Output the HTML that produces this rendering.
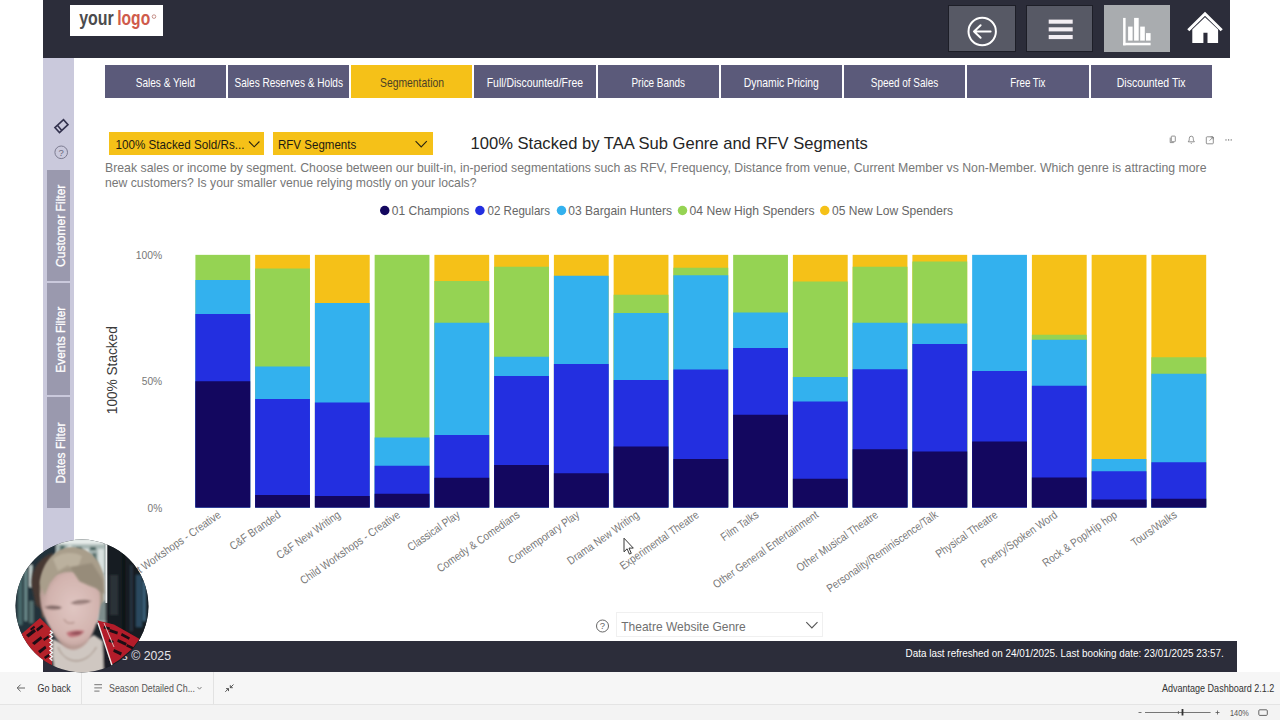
<!DOCTYPE html>
<html lang="en">
<head>
<meta charset="utf-8">
<title>Advantage Dashboard - Segmentation</title>
<style>
html,body{margin:0;padding:0;background:#fff;}
body{width:1280px;height:720px;overflow:hidden;position:relative;font-family:"Liberation Sans",sans-serif;}
#stage{position:absolute;left:0;top:0;width:1280px;height:720px;overflow:hidden;background:#fff;}
.abs{position:absolute;}
#header{left:43px;top:0;width:1187px;height:58.4px;background:#2c2d3a;}
#sidebar{left:43px;top:58.4px;width:31px;height:582.6px;background:#cac9dc;}
.fbtn{left:47px;width:23px;background:#9a99ae;}
#logo{left:70px;top:4.6px;width:93.2px;height:31px;background:#fff;}
.hbtn{top:4.5px;height:47.5px;box-sizing:border-box;border:1px solid #1d1e27;background:#575965;}
.tab{top:65.2px;height:32.4px;width:121.4px;background:#5b5a7a;}
.tab.on{background:#f5c118;}
.dd{background:#f5c118;top:132px;height:22.5px;}
#footer{left:43px;top:641px;width:1194px;height:31px;background:#2c2d3a;}
#botbar{left:0;top:672px;width:1280px;height:32.5px;background:#f6f6f6;border-bottom:1px solid #e4e4e4;box-sizing:border-box;}
#zoombar{left:0;top:704.5px;width:1280px;height:15.5px;background:#f3f3f3;}
.vsep{top:672px;width:1px;height:32px;background:#e2e2e2;}
#genre{left:615.5px;top:612px;width:207px;height:24.5px;box-sizing:border-box;border:1px solid #f0f0f0;background:#fff;}
svg{position:absolute;left:0;top:0;overflow:visible;}
svg text{font-family:"Liberation Sans",sans-serif;}
</style>
</head>
<body>
<div id="stage">

<div id="header" class="abs"></div>
<div id="sidebar" class="abs"></div>
<div class="abs fbtn" style="top:169.5px;height:111.3px"></div>
<div class="abs fbtn" style="top:283.3px;height:111.7px"></div>
<div class="abs fbtn" style="top:397px;height:111.3px"></div>
<div id="logo" class="abs"></div>
<div class="abs hbtn" style="left:948px;width:67.5px"></div>
<div class="abs hbtn" style="left:1025.7px;width:67.7px"></div>
<div class="abs hbtn" style="left:1103.7px;width:66.5px;background:#a9acaf;border-color:#a9acaf"></div>
<div class="abs tab" style="left:104.5px"></div>
<div class="abs tab" style="left:228px"></div>
<div class="abs tab on" style="left:351px"></div>
<div class="abs tab" style="left:474.25px"></div>
<div class="abs tab" style="left:597.5px"></div>
<div class="abs tab" style="left:720.75px"></div>
<div class="abs tab" style="left:844px"></div>
<div class="abs tab" style="left:967.25px"></div>
<div class="abs tab" style="left:1090.5px"></div>
<div class="abs dd" style="left:109.25px;width:155px"></div>
<div class="abs dd" style="left:272.5px;width:160.4px"></div>
<div id="genre" class="abs"></div>
<div id="footer" class="abs"></div>
<div id="botbar" class="abs"></div>
<div id="zoombar" class="abs"></div>
<div class="abs vsep" style="left:81px"></div>
<div class="abs vsep" style="left:212.5px"></div>
<svg width="1280" height="720" viewBox="0 0 1280 720">
<g font-weight="bold">
<text x="79.2" y="25.2" font-size="19.6" fill="#4b4b4d" textLength="34.6" lengthAdjust="spacingAndGlyphs">your</text>
<text x="117.2" y="25.2" font-size="19.6" fill="#cf5b4c" textLength="33" lengthAdjust="spacingAndGlyphs">logo</text>
</g>
<circle cx="154" cy="16.6" r="1.8" fill="none" stroke="#b9786e" stroke-width="0.8"/>
<g fill="none" stroke="#fff" stroke-width="2" stroke-linecap="round" stroke-linejoin="round">
<circle cx="982.2" cy="31.5" r="13.7"/>
<path d="M990.6 31.5H974 M980.6 25.2L974 31.5L980.6 37.8"/>
</g>
<g fill="#f3eef3"><rect x="1048.7" y="19.6" width="24" height="4.1"/><rect x="1048.7" y="27.3" width="24" height="4.1"/><rect x="1048.7" y="35" width="24" height="4.1"/></g>
<g fill="#fff"><rect x="1123.1" y="17.9" width="2.5" height="27.4"/><rect x="1123.1" y="42.8" width="27.5" height="2.5"/><rect x="1128.1" y="26.6" width="4.5" height="14"/><rect x="1134.1" y="17.9" width="4.6" height="22.7"/><rect x="1140.2" y="26.6" width="4.6" height="14"/><rect x="1146" y="33.1" width="4.6" height="7.5"/></g>
<path d="M1188.3 30.2L1205 13.8L1221.7 30.2" fill="none" stroke="#fff" stroke-width="3"/>
<path d="M1192.3 29.5L1205 17.2L1218.1 29.5V43.1H1207.5V32.8H1203.4V43.1H1192.3Z" fill="#fff"/>
<text x="135.75" y="86.8" font-size="12.2" fill="#fff" textLength="59.25" lengthAdjust="spacingAndGlyphs">Sales &amp; Yield</text>
<text x="234.5" y="86.8" font-size="12.2" fill="#fff" textLength="108.5" lengthAdjust="spacingAndGlyphs">Sales Reserves &amp; Holds</text>
<text x="380" y="86.8" font-size="12.2" fill="#4a4026" textLength="64" lengthAdjust="spacingAndGlyphs">Segmentation</text>
<text x="486.75" y="86.8" font-size="12.2" fill="#fff" textLength="96.25" lengthAdjust="spacingAndGlyphs">Full/Discounted/Free</text>
<text x="631.5" y="86.8" font-size="12.2" fill="#fff" textLength="53.5" lengthAdjust="spacingAndGlyphs">Price Bands</text>
<text x="743.75" y="86.8" font-size="12.2" fill="#fff" textLength="75.0" lengthAdjust="spacingAndGlyphs">Dynamic Pricing</text>
<text x="870.75" y="86.8" font-size="12.2" fill="#fff" textLength="67.5" lengthAdjust="spacingAndGlyphs">Speed of Sales</text>
<text x="1010.25" y="86.8" font-size="12.2" fill="#fff" textLength="35.25" lengthAdjust="spacingAndGlyphs">Free Tix</text>
<text x="1116.75" y="86.8" font-size="12.2" fill="#fff" textLength="68.75" lengthAdjust="spacingAndGlyphs">Discounted Tix</text>
<g fill="none" stroke="#33324e" stroke-width="1.6" stroke-linejoin="miter">
<path d="M54.9 127.6L63.5 119.6L68 124.7L59.5 132.6Z M57.4 125.3L61.8 130.4"/>
</g>
<circle cx="61.2" cy="152.3" r="6.3" fill="none" stroke="#7c7b90" stroke-width="1"/>
<text x="61.2" y="155.7" font-size="9.5" fill="#6a697e" text-anchor="middle">?</text>
<text transform="translate(64.8,225.8) rotate(-90)" font-size="13.5" fill="#fff" stroke="#fff" stroke-width="0.3" text-anchor="middle" textLength="82.3" lengthAdjust="spacingAndGlyphs">Customer Filter</text>
<text transform="translate(64.8,339.7) rotate(-90)" font-size="13.5" fill="#fff" stroke="#fff" stroke-width="0.3" text-anchor="middle" textLength="66" lengthAdjust="spacingAndGlyphs">Events Filter</text>
<text transform="translate(64.8,453.1) rotate(-90)" font-size="13.5" fill="#fff" stroke="#fff" stroke-width="0.3" text-anchor="middle" textLength="61" lengthAdjust="spacingAndGlyphs">Dates Filter</text>
<text x="115.5" y="149.3" font-size="12.7" fill="#1c1a12" textLength="129" lengthAdjust="spacingAndGlyphs">100% Stacked Sold/Rs...</text>
<text x="278" y="149.3" font-size="12.7" fill="#1c1a12" textLength="78.2" lengthAdjust="spacingAndGlyphs">RFV Segments</text>
<path d="M249 141.5L254.2 146.8L259.4 141.5" fill="none" stroke="#2a2410" stroke-width="1.1"/>
<path d="M415.6 141.2L421.2 146.9L426.8 141.2" fill="none" stroke="#2a2410" stroke-width="1.1"/>
<text x="470.5" y="149.0" font-size="17" fill="#252525" textLength="397.3" lengthAdjust="spacingAndGlyphs">100% Stacked by TAA Sub Genre and RFV Segments</text>
<g transform="translate(0,0.6)"><g fill="none" stroke="#777" stroke-width="0.8">
<rect x="1171.3" y="135.5" width="4" height="5.6" rx="0.6"/><path d="M1170.2 137v5h3.6"/>
<path d="M1188.2 141.2c1.2-1 1.1-3 1.1-3.6a2 2 0 014 0c0 .6-.1 2.600 1.1 3.600zM1190.600 142.300a.8.800 0 001.400 0"/>
<rect x="1206.3" y="136.2" width="7" height="7" rx="0.8"/><path d="M1209.600 140l3.400-3.400M1210.700 136.400h2.400v2.400"/>
</g>
<g fill="#666"><circle cx="1226" cy="139.3" r="0.7"/><circle cx="1228.600" cy="139.3" r="0.7"/><circle cx="1231.2" cy="139.3" r="0.7"/></g></g>
<text x="105" y="171.6" font-size="12.9" fill="#777" textLength="1101.5" lengthAdjust="spacingAndGlyphs">Break sales or income by segment. Choose between our built-in, in-period segmentations such as RFV, Frequency, Distance from venue, Current Member vs Non-Member. Which genre is attracting more</text>
<text x="105" y="186.9" font-size="12.9" fill="#777" textLength="371.5" lengthAdjust="spacingAndGlyphs">new customers? Is your smaller venue relying mostly on your locals?</text>
<circle cx="384.75" cy="210.5" r="4.75" fill="#13075f"/>
<text x="391.75" y="215" font-size="12.6" fill="#666" textLength="77.5" lengthAdjust="spacingAndGlyphs">01 Champions</text>
<circle cx="479.9" cy="210.5" r="4.75" fill="#232fe0"/>
<text x="487.5" y="215" font-size="12.6" fill="#666" textLength="62.5" lengthAdjust="spacingAndGlyphs">02 Regulars</text>
<circle cx="561.5" cy="210.5" r="4.75" fill="#33b1ee"/>
<text x="568.25" y="215" font-size="12.6" fill="#666" textLength="103.75" lengthAdjust="spacingAndGlyphs">03 Bargain Hunters</text>
<circle cx="682.5" cy="210.5" r="4.75" fill="#95d353"/>
<text x="689.5" y="215" font-size="12.6" fill="#666" textLength="125.0" lengthAdjust="spacingAndGlyphs">04 New High Spenders</text>
<circle cx="824.75" cy="210.5" r="4.75" fill="#f5c118"/>
<text x="832" y="215" font-size="12.6" fill="#666" textLength="121" lengthAdjust="spacingAndGlyphs">05 New Low Spenders</text>
<text x="162.2" y="258.9" font-size="11.8" fill="#777" text-anchor="end" textLength="26.4" lengthAdjust="spacingAndGlyphs">100%</text>
<text x="162.2" y="385.4" font-size="11.8" fill="#777" text-anchor="end" textLength="20.5" lengthAdjust="spacingAndGlyphs">50%</text>
<text x="162.2" y="511.8" font-size="11.8" fill="#777" text-anchor="end" textLength="14.7" lengthAdjust="spacingAndGlyphs">0%</text>
<text transform="translate(117.2,370.2) rotate(-90)" font-size="15" fill="#3a3a3a" text-anchor="middle" textLength="88" lengthAdjust="spacingAndGlyphs">100% Stacked</text>
<g shape-rendering="auto">
<rect x="195.4" y="254.85" width="54.8" height="252.65" fill="#95d353"/>
<rect x="195.4" y="280" width="54.8" height="227.5" fill="#33b1ee"/>
<rect x="195.4" y="314" width="54.8" height="193.5" fill="#232fe0"/>
<rect x="195.4" y="381.25" width="54.8" height="126.25" fill="#13075f"/>
<rect x="255.15" y="254.85" width="54.8" height="252.65" fill="#f5c118"/>
<rect x="255.15" y="268.5" width="54.8" height="239.0" fill="#95d353"/>
<rect x="255.15" y="366.5" width="54.8" height="141.0" fill="#33b1ee"/>
<rect x="255.15" y="399" width="54.8" height="108.5" fill="#232fe0"/>
<rect x="255.15" y="495" width="54.8" height="12.5" fill="#13075f"/>
<rect x="314.9" y="254.85" width="54.8" height="252.65" fill="#f5c118"/>
<rect x="314.9" y="303" width="54.8" height="204.5" fill="#33b1ee"/>
<rect x="314.9" y="402.5" width="54.8" height="105.0" fill="#232fe0"/>
<rect x="314.9" y="496" width="54.8" height="11.5" fill="#13075f"/>
<rect x="374.65" y="254.85" width="54.8" height="252.65" fill="#95d353"/>
<rect x="374.65" y="437.5" width="54.8" height="70.0" fill="#33b1ee"/>
<rect x="374.65" y="465.75" width="54.8" height="41.75" fill="#232fe0"/>
<rect x="374.65" y="493.75" width="54.8" height="13.75" fill="#13075f"/>
<rect x="434.4" y="254.85" width="54.8" height="252.65" fill="#f5c118"/>
<rect x="434.4" y="281" width="54.8" height="226.5" fill="#95d353"/>
<rect x="434.4" y="322.75" width="54.8" height="184.75" fill="#33b1ee"/>
<rect x="434.4" y="435" width="54.8" height="72.5" fill="#232fe0"/>
<rect x="434.4" y="477.75" width="54.8" height="29.75" fill="#13075f"/>
<rect x="494.15" y="254.85" width="54.8" height="252.65" fill="#f5c118"/>
<rect x="494.15" y="266.75" width="54.8" height="240.75" fill="#95d353"/>
<rect x="494.15" y="356.75" width="54.8" height="150.75" fill="#33b1ee"/>
<rect x="494.15" y="376" width="54.8" height="131.5" fill="#232fe0"/>
<rect x="494.15" y="465" width="54.8" height="42.5" fill="#13075f"/>
<rect x="553.9" y="254.85" width="54.8" height="252.65" fill="#f5c118"/>
<rect x="553.9" y="275.75" width="54.8" height="231.75" fill="#33b1ee"/>
<rect x="553.9" y="364" width="54.8" height="143.5" fill="#232fe0"/>
<rect x="553.9" y="473.25" width="54.8" height="34.25" fill="#13075f"/>
<rect x="613.65" y="254.85" width="54.8" height="252.65" fill="#f5c118"/>
<rect x="613.65" y="294.75" width="54.8" height="212.75" fill="#95d353"/>
<rect x="613.65" y="313" width="54.8" height="194.5" fill="#33b1ee"/>
<rect x="613.65" y="380" width="54.8" height="127.5" fill="#232fe0"/>
<rect x="613.65" y="446.5" width="54.8" height="61.0" fill="#13075f"/>
<rect x="673.4" y="254.85" width="54.8" height="252.65" fill="#f5c118"/>
<rect x="673.4" y="267.75" width="54.8" height="239.75" fill="#95d353"/>
<rect x="673.4" y="275.25" width="54.8" height="232.25" fill="#33b1ee"/>
<rect x="673.4" y="369.5" width="54.8" height="138.0" fill="#232fe0"/>
<rect x="673.4" y="459" width="54.8" height="48.5" fill="#13075f"/>
<rect x="733.15" y="254.85" width="54.8" height="252.65" fill="#95d353"/>
<rect x="733.15" y="312.5" width="54.8" height="195.0" fill="#33b1ee"/>
<rect x="733.15" y="348" width="54.8" height="159.5" fill="#232fe0"/>
<rect x="733.15" y="414.75" width="54.8" height="92.75" fill="#13075f"/>
<rect x="792.9" y="254.85" width="54.8" height="252.65" fill="#f5c118"/>
<rect x="792.9" y="281.5" width="54.8" height="226.0" fill="#95d353"/>
<rect x="792.9" y="377" width="54.8" height="130.5" fill="#33b1ee"/>
<rect x="792.9" y="401.5" width="54.8" height="106.0" fill="#232fe0"/>
<rect x="792.9" y="478.75" width="54.8" height="28.75" fill="#13075f"/>
<rect x="852.65" y="254.85" width="54.8" height="252.65" fill="#f5c118"/>
<rect x="852.65" y="266.75" width="54.8" height="240.75" fill="#95d353"/>
<rect x="852.65" y="322.75" width="54.8" height="184.75" fill="#33b1ee"/>
<rect x="852.65" y="369.25" width="54.8" height="138.25" fill="#232fe0"/>
<rect x="852.65" y="449.25" width="54.8" height="58.25" fill="#13075f"/>
<rect x="912.4" y="254.85" width="54.8" height="252.65" fill="#f5c118"/>
<rect x="912.4" y="261.5" width="54.8" height="246.0" fill="#95d353"/>
<rect x="912.4" y="323.5" width="54.8" height="184.0" fill="#33b1ee"/>
<rect x="912.4" y="344" width="54.8" height="163.5" fill="#232fe0"/>
<rect x="912.4" y="451.5" width="54.8" height="56.0" fill="#13075f"/>
<rect x="972.15" y="254.85" width="54.8" height="252.65" fill="#33b1ee"/>
<rect x="972.15" y="371" width="54.8" height="136.5" fill="#232fe0"/>
<rect x="972.15" y="441.5" width="54.8" height="66.0" fill="#13075f"/>
<rect x="1031.9" y="254.85" width="54.8" height="252.65" fill="#f5c118"/>
<rect x="1031.9" y="334.75" width="54.8" height="172.75" fill="#95d353"/>
<rect x="1031.9" y="339.75" width="54.8" height="167.75" fill="#33b1ee"/>
<rect x="1031.9" y="385.75" width="54.8" height="121.75" fill="#232fe0"/>
<rect x="1031.9" y="477.5" width="54.8" height="30.0" fill="#13075f"/>
<rect x="1091.65" y="254.85" width="54.8" height="252.65" fill="#f5c118"/>
<rect x="1091.65" y="459" width="54.8" height="48.5" fill="#33b1ee"/>
<rect x="1091.65" y="471.25" width="54.8" height="36.25" fill="#232fe0"/>
<rect x="1091.65" y="499.5" width="54.8" height="8.0" fill="#13075f"/>
<rect x="1151.4" y="254.85" width="54.8" height="252.65" fill="#f5c118"/>
<rect x="1151.4" y="357.25" width="54.8" height="150.25" fill="#95d353"/>
<rect x="1151.4" y="373.75" width="54.8" height="133.75" fill="#33b1ee"/>
<rect x="1151.4" y="462.25" width="54.8" height="45.25" fill="#232fe0"/>
<rect x="1151.4" y="498.75" width="54.8" height="8.75" fill="#13075f"/>
</g>
<g font-size="11.4" fill="#777" text-anchor="end">
<text transform="translate(221.8,516.5) rotate(-35)" textLength="119.1" lengthAdjust="spacingAndGlyphs">Adult Workshops - Creative</text>
<text transform="translate(281.55,516.5) rotate(-35)" textLength="59.4" lengthAdjust="spacingAndGlyphs">C&amp;F Branded</text>
<text transform="translate(341.3,516.5) rotate(-35)" textLength="75.0" lengthAdjust="spacingAndGlyphs">C&amp;F New Writing</text>
<text transform="translate(401.05,516.5) rotate(-35)" textLength="119.1" lengthAdjust="spacingAndGlyphs">Child Workshops - Creative</text>
<text transform="translate(460.8,516.5) rotate(-35)" textLength="61.0" lengthAdjust="spacingAndGlyphs">Classical Play</text>
<text transform="translate(520.55,516.5) rotate(-35)" textLength="98.1" lengthAdjust="spacingAndGlyphs">Comedy &amp; Comedians</text>
<text transform="translate(580.3,516.5) rotate(-35)" textLength="83.9" lengthAdjust="spacingAndGlyphs">Contemporary Play</text>
<text transform="translate(640.05,516.5) rotate(-35)" textLength="84.8" lengthAdjust="spacingAndGlyphs">Drama New Writing</text>
<text transform="translate(699.8,516.5) rotate(-35)" textLength="93.5" lengthAdjust="spacingAndGlyphs">Experimental Theatre</text>
<text transform="translate(759.55,516.5) rotate(-35)" textLength="43.4" lengthAdjust="spacingAndGlyphs">Film Talks</text>
<text transform="translate(819.3,516.5) rotate(-35)" textLength="125.9" lengthAdjust="spacingAndGlyphs">Other General Entertainment</text>
<text transform="translate(879.05,516.5) rotate(-35)" textLength="96.8" lengthAdjust="spacingAndGlyphs">Other Musical Theatre</text>
<text transform="translate(938.8,516.5) rotate(-35)" textLength="132.9" lengthAdjust="spacingAndGlyphs">Personality/Reminiscence/Talk</text>
<text transform="translate(998.55,516.5) rotate(-35)" textLength="72.8" lengthAdjust="spacingAndGlyphs">Physical Theatre</text>
<text transform="translate(1058.3,516.5) rotate(-35)" textLength="90.3" lengthAdjust="spacingAndGlyphs">Poetry/Spoken Word</text>
<text transform="translate(1118.05,516.5) rotate(-35)" textLength="88.3" lengthAdjust="spacingAndGlyphs">Rock &amp; Pop/Hip hop</text>
<text transform="translate(1177.8,516.5) rotate(-35)" textLength="53.0" lengthAdjust="spacingAndGlyphs">Tours/Walks</text>
</g>
<path d="M624 538.2v13.6l3.100-3 2.300 5.300 1.900-.8-2.300-5.200h4.300z" fill="#fff" stroke="#222" stroke-width="0.9" stroke-linejoin="round"/>
<circle cx="602.5" cy="626" r="6" fill="none" stroke="#666" stroke-width="1"/>
<text x="602.5" y="629.3" font-size="9.5" fill="#666" text-anchor="middle">?</text>
<text x="621.25" y="630.5" font-size="13.2" fill="#707070" textLength="124.5" lengthAdjust="spacingAndGlyphs">Theatre Website Genre</text>
<path d="M806.3 622.2L811.9 627.9L817.5 622.2" fill="none" stroke="#555" stroke-width="1.1"/>
<text x="171" y="660" font-size="12.3" fill="#e4e4e8" text-anchor="end">Analytics © 2025</text>
<text x="905.6" y="656.9" font-size="11" fill="#fff" textLength="318.2" lengthAdjust="spacingAndGlyphs">Data last refreshed on 24/01/2025. Last booking date: 23/01/2025 23:57.</text>
<path d="M25 688H17.300M20.600 684.600L17.200 688L20.600 691.400" fill="none" stroke="#555" stroke-width="0.9"/>
<text x="37.5" y="692.3" font-size="10.6" fill="#333" textLength="33.2" lengthAdjust="spacingAndGlyphs">Go back</text>
<path d="M94.300 684.700H102M94.300 687.900H102M94.300 691.100H99.500" fill="none" stroke="#666" stroke-width="0.9"/>
<text x="109" y="692.3" font-size="10.6" fill="#555" textLength="86" lengthAdjust="spacingAndGlyphs">Season Detailed Ch...</text>
<path d="M197.500 687L199.500 689.200L201.500 687" fill="none" stroke="#666" stroke-width="0.8"/>
<path d="M233.500 684.500L230.300 687.700M230.300 685.200V687.700H232.800M225.300 691.800L228.500 688.600M228.500 691.100V688.600H226" fill="none" stroke="#444" stroke-width="0.9"/>
<text x="1274.4" y="691.9" font-size="10.4" fill="#333" text-anchor="end" textLength="112.5" lengthAdjust="spacingAndGlyphs">Advantage Dashboard 2.1.2</text>
<path d="M1138.500 712.500H1141.500M1145 712.500H1210.600M1215.500 712.500H1219.500M1217.500 710.500V714.500M1178.400 711V714" fill="none" stroke="#555" stroke-width="0.8"/>
<rect x="1181.600" y="709" width="1.800" height="6.500" fill="#333"/>
<text x="1230" y="716.2" font-size="9.6" fill="#555" textLength="18.8" lengthAdjust="spacingAndGlyphs">140%</text>
<rect x="1258.800" y="709.800" width="8.500" height="5.600" rx="1" fill="none" stroke="#555" stroke-width="0.9"/>
</svg>
<svg width="1280" height="720" viewBox="0 0 1280 720">
<defs>
<clipPath id="cam"><circle cx="82" cy="606" r="66.4"/></clipPath>
<filter id="b1" x="-10%" y="-10%" width="120%" height="120%"><feGaussianBlur stdDeviation="5"/></filter>
<filter id="b2" x="-10%" y="-10%" width="120%" height="120%"><feGaussianBlur stdDeviation="2.2"/></filter>
<filter id="b3" x="-30%" y="-30%" width="160%" height="160%"><feGaussianBlur stdDeviation="12"/></filter>
<radialGradient id="skin" cx="0.55" cy="0.45" r="0.65"><stop offset="0" stop-color="#e0c6c2"/><stop offset="0.65" stop-color="#d2b3ae"/><stop offset="1" stop-color="#ad908b"/></radialGradient>
</defs>
<g clip-path="url(#cam)">
<g transform="translate(10,535) scale(0.2)">
<rect x="0" y="0" width="720" height="720" fill="#1b2228"/>
<!-- background -->
<g filter="url(#b1)">
<rect x="0" y="0" width="250" height="520" fill="#22333a"/>
<rect x="40" y="150" width="22" height="300" fill="#46686a"/>
<rect x="72" y="170" width="14" height="260" fill="#6f9090"/>
<rect x="96" y="150" width="16" height="110" fill="#c9d6d3"/>
<rect x="96" y="330" width="22" height="110" fill="#54706f"/>
<rect x="230" y="0" width="250" height="440" fill="#a9b8b5"/>
<rect x="240" y="20" width="230" height="26" fill="#e6ecea"/>
<rect x="250" y="52" width="24" height="60" fill="#4c6a66"/>
<rect x="290" y="52" width="18" height="50" fill="#dfe7e4"/>
<rect x="330" y="60" width="30" height="60" fill="#46615e"/>
<rect x="372" y="70" width="20" height="90" fill="#e4eae8"/>
<rect x="400" y="60" width="30" height="16" fill="#3f5c58"/>
<rect x="410" y="90" width="22" height="90" fill="#56706d"/>
<rect x="440" y="70" width="30" height="120" fill="#d9e1df"/>
<rect x="430" y="200" width="48" height="220" fill="#c3cccb"/>
<rect x="440" y="330" width="40" height="100" fill="#7d8d8c"/>
<rect x="486" y="0" width="240" height="720" fill="#171c22"/>
<rect x="560" y="60" width="16" height="420" fill="#0e1216"/>
<rect x="600" y="150" width="14" height="330" fill="#27343f"/>
<rect x="630" y="200" width="30" height="260" fill="#2b4a5e"/>
<rect x="664" y="230" width="14" height="200" fill="#3e6680"/>
<rect x="500" y="200" width="40" height="200" fill="#2a3138"/>
</g>
<rect x="477" y="40" width="9" height="300" fill="#eef1f1" filter="url(#b2)"/>
<!-- dark hair -->
<g filter="url(#b1)">
<path d="M108 250C104 170 150 110 215 90L200 230L178 300L165 380L128 350Z" fill="#473833"/>
<path d="M150 300L185 240L180 400L160 420Z" fill="#5b463d"/>
</g>
<!-- head base -->
<path d="M150 300C140 170 215 70 300 64C395 60 455 135 468 230L468 330L400 420L200 420Z" fill="#a29785" filter="url(#b1)"/>
<!-- neck / chest -->
<g filter="url(#b1)">
<path d="M190 560L215 520L300 560L420 500L470 530L520 720L190 720Z" fill="#1d1d25"/>
<path d="M215 520L300 560L420 500L462 530L470 720L230 720L212 600Z" fill="#cfc7c1"/>
<path d="M240 560C275 650 380 655 432 560" fill="none" stroke="#9a8478" stroke-width="5"/>
</g>
<!-- face -->
<g filter="url(#b1)">
<path d="M152 330C148 250 195 190 290 185C390 180 452 230 452 310C452 380 436 450 404 510C378 556 340 577 310 574C268 570 226 522 198 460C176 420 156 380 152 330Z" fill="url(#skin)"/>
<path d="M170 360C200 345 240 350 262 362C240 378 200 380 170 360Z" fill="#9a7f7b"/>
<path d="M300 340C330 322 380 318 410 330C380 350 330 356 300 340Z" fill="#a58a86"/>
<path d="M185 365C205 358 235 360 250 368" fill="none" stroke="#6e5a58" stroke-width="6"/>
<path d="M315 338C340 328 372 326 395 333" fill="none" stroke="#7b6764" stroke-width="5"/>
<path d="M270 420C280 440 300 446 322 436" fill="none" stroke="#b89891" stroke-width="8"/>
<path d="M282 488C310 474 345 470 372 480C360 504 330 514 300 510C290 506 284 498 282 488Z" fill="#c0727a"/>
<path d="M298 492C320 484 345 482 362 487C350 498 320 502 298 492Z" fill="#8a4a52"/>
<path d="M205 460C230 520 270 568 310 572C340 575 375 555 400 510C380 540 340 556 310 552C270 546 235 510 205 460Z" fill="#b99c95"/>
</g>
<!-- blonde fringe -->
<g filter="url(#b1)">
<path d="M150 240C160 150 215 72 300 64C390 58 452 120 468 210L472 296L440 268L395 254L345 230L305 168L275 170L235 196L198 242L172 305Z" fill="#a99e8b"/>
<path d="M215 120C250 85 320 80 360 105L330 190L290 150L240 180Z" fill="#bbb19e"/>
<path d="M300 160L350 232L430 266L470 296L462 220L410 140Z" fill="#978c7a"/>
</g>
<!-- red top -->
<g filter="url(#b2)">
<path d="M52 500L150 415L205 470L210 650L160 640L95 570Z" fill="#b5202b"/>
<path d="M438 428L520 448L648 520L610 570L545 625L505 650L470 530Z" fill="#b31e29"/>
<g fill="#1b1013">
<path d="M80 500l40-30 10 12-38 30zM110 540l44-34 8 12-40 32zM130 470l30-22 8 10-30 24zM140 580l36-26 6 12-32 26zM100 470l20-16 6 8-20 16zM165 520l26-18 4 10-24 18zM170 610l24-16 4 12-22 14z"/>
<path d="M500 470l40 14-4 14-40-14zM540 520l44 20-6 14-42-20zM560 490l40 22-6 12-40-22zM520 570l40 18-6 14-38-18zM585 545l34 16-6 12-32-16zM495 520l24 10-4 12-22-10zM470 455l30 8-2 12-30-8z"/>
</g>
<path d="M200 478l12 10-12 10 12 10-12 10 12 10-12 10 12 10-12 10 12 10-12 10 12 10-12 10 12 10-12 10 12 10" fill="none" stroke="#f0eeee" stroke-width="7"/>
<path d="M440 440L470 530L510 652" fill="none" stroke="#f0eeee" stroke-width="7"/>
<path d="M470 440L520 560" fill="none" stroke="#e8dede" stroke-width="4"/>
</g>
</g>
</g>
</svg>

</div>
</body>
</html>
